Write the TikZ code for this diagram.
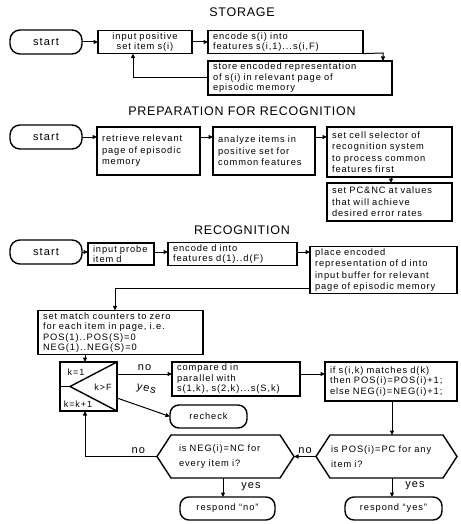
\documentclass[tikz,border=0pt]{standalone}
\usepackage{fontspec}
\setmainfont{Liberation Sans}
\newfontfamily\boxfont[LetterSpace=10]{Liberation Sans}
\newfontfamily\titlefont[LetterSpace=6]{Liberation Sans}
\usetikzlibrary{arrows.meta}
\newcommand\drawhex[2]{\draw[boxline] (#1.west) -- ([xshift=#2]#1.north west) -- ([xshift=-#2]#1.north east) -- (#1.east) -- ([xshift=-#2]#1.south east) -- ([xshift=#2]#1.south west) -- cycle;}
\tikzset{
  every node/.style={inner sep=0pt, outer sep=0pt},
  boxline/.style={line width=1.4pt},
  box/.style={draw, boxline, rectangle, inner xsep=5pt, inner ysep=2pt, align=left,
    font=\boxfont\fontsize{9.3}{10.5}\selectfont},
  tallbox/.style={box, font=\boxfont\fontsize{9.3}{11.5}\selectfont},
  term/.style={draw, boxline, rounded corners=10pt, align=center, minimum height=24pt,
    font=\boxfont\fontsize{11}{12}\selectfont},
  resp/.style={draw, boxline, rounded corners=9pt, align=center, minimum height=23pt,
    font=\boxfont\fontsize{9.3}{10.5}\selectfont},
  hexbox/.style={draw=none, rectangle, align=left, minimum height=43pt,
    font=\boxfont\fontsize{9.3}{15}\selectfont},
  arr/.style={line width=1pt, -{Triangle[length=4.5pt,width=4pt]}},
  lbl/.style={font=\boxfont\fontsize{11}{12}\selectfont},
  loopfont/.style={font=\boxfont\fontsize{9}{10}\selectfont},
  ttl/.style={font=\titlefont\fontsize{12.5}{14}\selectfont},
}
\begin{document}
\begin{tikzpicture}[x=1pt,y=-1pt]
\useasboundingbox (0,0) rectangle (460,524);
% titles
\node[ttl] (t1) at (242,12) {STORAGE};
\node[ttl] (t2) at (242,111) {PREPARATION FOR RECOGNITION};
\node[ttl] (t3) at (242,230) {RECOGNITION};

% ---------- storage
\node[term, minimum width=72pt] (start1) at (46,42) {start};
\node[box, align=center, text width=84pt, minimum height=22pt] (input1) at (145,42)
  {input positive\\set item s(i)};
\node[box, text width=145pt, minimum height=22pt] (encode1) at (285.5,42)
  {encode s(i) into\\features s(i,1)...s(i,F)};
\node[box, text width=174pt, minimum height=34pt] (store1) at (300,78)
  {store encoded representation\\of s(i) in relevant page of\\episodic memory};
\coordinate (c1) at (383,53);
\coordinate (c2) at (133,0);
\draw[arr] (start1.east) -- (input1.west);
\draw[arr] (input1.east) -- (encode1.west);
\draw[arr] (encode1.south east) -- (c1) -- (c1 |- store1.north);
\draw[arr] (store1.west) -| (c2 |- input1.south);

% ---------- preparation
\coordinate (r2) at (0,137);
\node[term, minimum width=72pt] (start2) at (46,137) {start};
\node[tallbox, text width=93pt, minimum height=48pt] (retrieve) at (148.5,151)
  {retrieve relevant\\page of episodic\\memory};
\node[tallbox, text width=92pt, minimum height=48pt] (analyze) at (264,151)
  {analyze items in\\positive set for\\common features};
\node[tallbox, text width=115pt, minimum height=50pt] (cell) at (389.5,152)
  {set cell selector of\\recognition system\\to process common\\features first};
\node[tallbox, text width=115pt, minimum height=38pt] (pcnc) at (389.5,202)
  {set PC\&NC at values\\that will achieve\\desired error rates};
\coordinate (c3) at (391,0);
\draw[arr] (start2.east) -- (retrieve.west |- r2);
\draw[arr] (retrieve.east |- r2) -- (analyze.west |- r2);
\draw[arr] (analyze.east |- r2) -- (cell.west |- r2);
\draw[arr] (cell.south -| c3) -- (pcnc.north -| c3);

% ---------- recognition
\coordinate (r3) at (0,252);
\node[term, minimum width=72pt] (start3) at (46,252) {start};
\node[box, text width=56pt, minimum height=22pt] (probe) at (121,254)
  {input probe\\item d};
\node[box, text width=119pt, minimum height=22pt] (encode3) at (232.5,254)
  {encode d into\\features d(1)..d(F)};
\node[tallbox, text width=137pt, minimum height=44pt] (place) at (383.5,270)
  {place encoded\\representation of d into\\input buffer for relevant\\page of episodic memory};
\draw[arr] (start3.east) -- (probe.west |- r3);
\draw[arr] (probe.east |- r3) -- (encode3.west |- r3);
\draw[arr] (encode3.east |- r3) -- (place.west |- r3);

\node[box, text width=155pt, minimum height=41pt] (match) at (120.5,332.5)
  {set match counters to zero\\for each item in page, i.e.\\POS(1)..POS(S)=0\\NEG(1)..NEG(S)=0};
\coordinate (c4) at (115,288);
\draw[arr] (place.west |- c4) -- (c4) -- (c4 |- match.north);

% loop box
\node[draw, boxline, minimum width=57pt, minimum height=49pt] (loop) at (88.5,386.5) {};
\draw[boxline] (loop.north east) -- ([xshift=10pt]loop.west) -- (loop.south east);
\draw[boxline] (loop.west) -- ([xshift=10pt]loop.west);
\node[loopfont] (k1) at (76,372) {k=1};
\node[loopfont] (kF) at (103,387) {k>F};
\node[loopfont] (kk) at (78,404) {k=k+1};
\coordinate (c5) at (85,0);
\draw[arr] (match.south -| c5) -- (loop.north -| c5);

\node[box, text width=118pt, minimum height=32pt] (compare) at (236,379)
  {compare d in\\parallel with\\s(1,k), s(2,k)...s(S,k)};
\node[box, text width=122pt, minimum height=39pt] (ifbox) at (391,381.5)
  {if s(i,k) matches d(k)\\then POS(i)=POS(i)+1;\\else NEG(i)=NEG(i)+1;};
\node[resp, minimum width=77pt] (recheck) at (208.5,416.5) {recheck};

\coordinate (r4) at (0,374);
\coordinate (r5) at (0,398);
\draw[arr] (loop.east |- r4) -- node[lbl, above=3pt] {no} (compare.west |- r4);
\draw[arr] (compare.east |- r4) -- (ifbox.west |- r4);
\draw[arr] (loop.east |- r5) -- (recheck.west);
\node[lbl, rotate=-15] (yes0) at (146,390) {yes};

% decisions
\node[hexbox, minimum width=137pt, text width=93pt, inner xsep=22pt] (neg) at (225.5,456.5)
  {is NEG(i)=NC for\\every item i?};
\drawhex{neg}{14pt}
\node[hexbox, minimum width=141pt, text width=111pt, inner xsep=15pt] (pos) at (386.5,456.5)
  {is POS(i)=PC for any\\item i?};
\drawhex{pos}{14pt}

\node[resp, minimum width=95pt] (respno) at (227.5,508.5) {respond “no”};
\node[resp, minimum width=97pt] (respyes) at (393.5,508.5) {respond “yes”};

\coordinate (c7) at (392,0);
\coordinate (c8) at (223,0);
\draw[arr] (ifbox.south -| c7) -- (pos.north -| c7);
\draw[arr] (pos.west) -- node[lbl, above=3pt] {no} (neg.east);
\draw[arr] (neg.west) -| node[lbl, pos=0.13, above=3pt] {no} (loop.south -| c5);
\draw[arr] (neg.south -| c8) -- (respno.north -| c8);
\draw[arr] (pos.south -| c7) -- (respyes.north -| c7);
\node[lbl] (yes1) at (251,487) {yes};
\node[lbl] (yes2) at (415,486) {yes};
\end{tikzpicture}
\end{document}
